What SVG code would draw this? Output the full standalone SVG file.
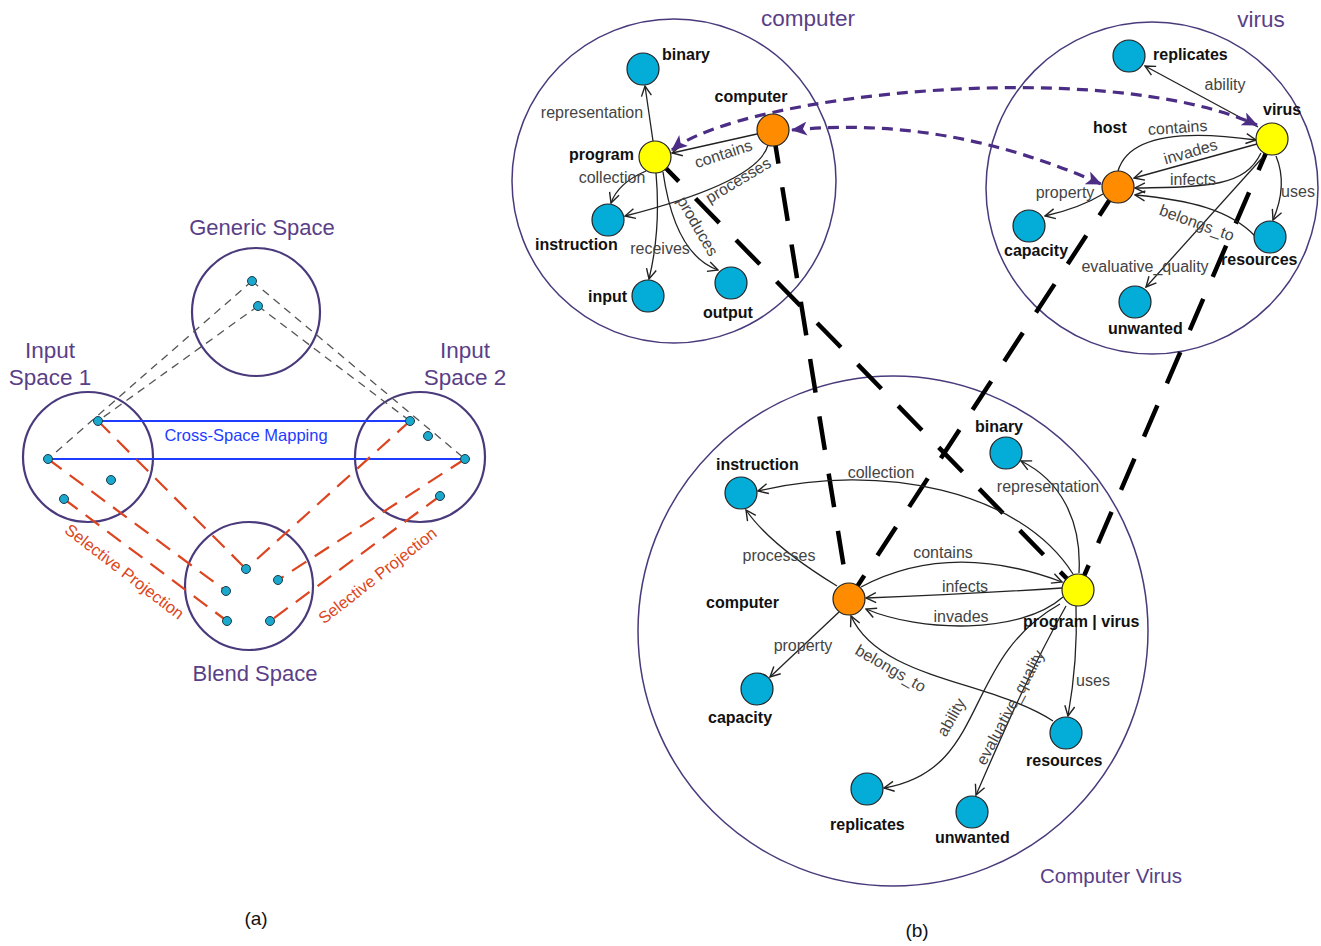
<svg xmlns="http://www.w3.org/2000/svg" width="1321" height="946" viewBox="0 0 1321 946">
  <defs>
    <style>
      .space { fill: none; stroke: #4a3a7c; }
      .spaceA { stroke-width: 2.2; }
      .spaceB { stroke-width: 1.5; }
      .title { font-family: "Liberation Sans", Arial, sans-serif; fill: #5a3f88; }
      .dot { fill: #1aa8cc; stroke: #1c3a48; stroke-width: 1; }
      .gen { fill: none; stroke: #555; stroke-width: 1.3; stroke-dasharray: 8 6; }
      .map { fill: none; stroke: #1e3cff; stroke-width: 2; }
      .proj { fill: none; stroke: #dc4520; stroke-width: 2.2; stroke-dasharray: 17 10; }
      .redlbl { font-family: "Liberation Sans", Arial, sans-serif; font-size: 16.5px; fill: #dc4520; }
      .node { stroke: #222; stroke-width: 1.2; }
      .blue { fill: #04acd8; }
      .orange { fill: #ff8c00; }
      .yellow { fill: #ffff00; }
      .nl { font-family: "Liberation Sans", Arial, sans-serif; font-weight: bold; font-size: 16px; fill: #111; }
      .el { font-family: "Liberation Sans", Arial, sans-serif; font-size: 16px; fill: #444; }
      .edge { fill: none; stroke: #222; stroke-width: 1.3; marker-end: url(#open); }
      .link { fill: none; stroke: #000; stroke-width: 4.5; stroke-dasharray: 34 24; }
      .corr { fill: none; stroke: #4b2d86; stroke-width: 3.2; stroke-dasharray: 11 7; marker-start: url(#solid); marker-end: url(#solid); }
      .cap { font-family: "Liberation Sans", Arial, sans-serif; font-size: 19px; fill: #111; }
    </style>
    <marker id="open" viewBox="0 0 12 12" refX="11" refY="6" markerWidth="12" markerHeight="12" markerUnits="userSpaceOnUse" orient="auto">
      <path d="M1,1 L11,6 L1,11" fill="none" stroke="#222" stroke-width="1.4"/>
    </marker>
    <marker id="solid" viewBox="0 0 16 14" refX="15" refY="7" markerWidth="16" markerHeight="14" markerUnits="userSpaceOnUse" orient="auto-start-reverse">
      <path d="M0,0 L16,7 L0,14 L4,7 Z" fill="#4b2d86"/>
    </marker>
  </defs>

  <rect width="1321" height="946" fill="#fff"/>

  <!-- (a) conceptual blending network -->
  <g id="panel-a">
    <g id="generic-space">
      <circle class="space spaceA" cx="256" cy="312" r="64"/>
      <text class="title" x="262" y="235" font-size="22" text-anchor="middle">Generic Space</text>
    </g>
    <g id="input-space-1">
      <circle class="space spaceA" cx="88" cy="457" r="65"/>
      <text class="title" x="50" y="358" font-size="22.5" text-anchor="middle">Input</text>
      <text class="title" x="50" y="385" font-size="22.5" text-anchor="middle">Space 1</text>
    </g>
    <g id="input-space-2">
      <circle class="space spaceA" cx="420" cy="457" r="65"/>
      <text class="title" x="465" y="358" font-size="22.5" text-anchor="middle">Input</text>
      <text class="title" x="465" y="385" font-size="22.5" text-anchor="middle">Space 2</text>
    </g>
    <g id="blend-space">
      <circle class="space spaceA" cx="249" cy="586" r="64"/>
      <text class="title" x="255" y="681" font-size="22" text-anchor="middle">Blend Space</text>
    </g>

    <g id="a-connectors">
      <line class="gen" x1="252" y1="281" x2="48" y2="459"/>
      <line class="gen" x1="252" y1="281" x2="465" y2="459"/>
      <line class="gen" x1="258" y1="306" x2="98" y2="421"/>
      <line class="gen" x1="258" y1="306" x2="410" y2="421"/>
      <line class="map" x1="98" y1="421" x2="410" y2="421"/>
      <line class="map" x1="48" y1="459" x2="465" y2="459"/>
      <line class="proj" x1="98" y1="421" x2="246" y2="569"/>
      <line class="proj" x1="48" y1="459" x2="226" y2="591"/>
      <line class="proj" x1="64" y1="499" x2="227" y2="621"/>
      <line class="proj" x1="410" y1="421" x2="246" y2="569"/>
      <line class="proj" x1="465" y1="459" x2="278" y2="580"/>
      <line class="proj" x1="440" y1="496" x2="270" y2="621"/>
      <text x="246" y="441" font-family="Liberation Sans, Arial, sans-serif" font-size="16.5" fill="#1e3cff" text-anchor="middle">Cross-Space Mapping</text>
      <text class="redlbl" text-anchor="middle" transform="translate(121 576) rotate(37.5)">Selective Projection</text>
      <text class="redlbl" text-anchor="middle" transform="translate(381 580) rotate(-38)">Selective Projection</text>
    </g>

    <g id="a-elements">
      <circle class="dot" cx="252" cy="281" r="4.5"/>
      <circle class="dot" cx="258" cy="306" r="4.5"/>
      <circle class="dot" cx="98" cy="421" r="4.5"/>
      <circle class="dot" cx="48" cy="459" r="4.5"/>
      <circle class="dot" cx="111" cy="480" r="4.5"/>
      <circle class="dot" cx="64" cy="499" r="4.5"/>
      <circle class="dot" cx="410" cy="421" r="4.5"/>
      <circle class="dot" cx="428" cy="436" r="4.5"/>
      <circle class="dot" cx="465" cy="459" r="4.5"/>
      <circle class="dot" cx="440" cy="496" r="4.5"/>
      <circle class="dot" cx="246" cy="569" r="4.5"/>
      <circle class="dot" cx="278" cy="580" r="4.5"/>
      <circle class="dot" cx="226" cy="591" r="4.5"/>
      <circle class="dot" cx="227" cy="621" r="4.5"/>
      <circle class="dot" cx="270" cy="621" r="4.5"/>
    </g>
    <text class="cap" x="256" y="925" text-anchor="middle">(a)</text>
  </g>

  <!-- (b) computer / virus blend -->
  <g id="spaces-b">
    <circle class="space spaceB" cx="674" cy="181" r="162"/>
    <text class="title" x="808" y="26" font-size="22.5" text-anchor="middle">computer</text>
    <circle class="space spaceB" cx="1152" cy="188" r="166"/>
    <text class="title" x="1261" y="27" font-size="22.5" text-anchor="middle">virus</text>
    <circle class="space spaceB" cx="893" cy="631" r="255"/>
    <text class="title" x="1111" y="883" font-size="20.5" text-anchor="middle">Computer Virus</text>
  </g>

  <g id="connectors">
    <!-- cross-space mapping links -->
    <line class="link" x1="655" y1="157" x2="1078" y2="590"/>
    <line class="link" x1="773" y1="130" x2="849" y2="599"/>
    <line class="link" x1="1118" y1="187" x2="849" y2="599"/>
    <line class="link" x1="1272" y1="139" x2="1078" y2="590"/>

    <!-- computer space relations -->
    <path class="edge" d="M653,141 L645,86"/>
    <path class="edge" d="M757,134 L672,153"/>
    <path class="edge" d="M768,145 Q758,182 625,216"/>
    <path class="edge" d="M646,171 Q618,183 611,203"/>
    <path class="edge" d="M656,173 Q661,230 649,279"/>
    <path class="edge" d="M663,172 Q675,255 718,270"/>
    <text class="el" x="592" y="118" text-anchor="middle">representation</text>
    <text class="el" text-anchor="middle" transform="translate(725 159) rotate(-18)">contains</text>
    <text class="el" text-anchor="middle" transform="translate(741 185) rotate(-31)">processes</text>
    <text class="el" x="612" y="183" text-anchor="middle">collection</text>
    <text class="el" x="660" y="254" text-anchor="middle">receives</text>
    <text class="el" text-anchor="middle" transform="translate(693 229) rotate(60)">produces</text>

    <!-- virus space relations -->
    <path class="edge" d="M1258,127 L1145,66"/>
    <path class="edge" d="M1118,171 C1130,130 1200,132 1256,140"/>
    <path class="edge" d="M1257,144 L1134,178"/>
    <path class="edge" d="M1261,153 C1245,186 1210,187 1135,188"/>
    <path class="edge" d="M1276,156 Q1288,185 1273,220"/>
    <path class="edge" d="M1255,236 C1230,210 1190,200 1135,195"/>
    <path class="edge" d="M1103,194 Q1080,208 1045,216"/>
    <path class="edge" d="M1263,157 L1146,287"/>
    <text class="el" x="1225" y="90" text-anchor="middle">ability</text>
    <text class="el" text-anchor="middle" transform="translate(1178 133) rotate(-4)">contains</text>
    <text class="el" text-anchor="middle" transform="translate(1192 157) rotate(-16)">invades</text>
    <text class="el" x="1193" y="185" text-anchor="middle">infects</text>
    <text class="el" x="1298" y="197" text-anchor="middle">uses</text>
    <text class="el" text-anchor="middle" transform="translate(1195 228) rotate(20)">belongs_to</text>
    <text class="el" x="1065" y="198" text-anchor="middle">property</text>
    <text class="el" x="1145" y="272" text-anchor="middle">evaluative_quality</text>

    <!-- blend space relations -->
    <path class="edge" d="M1073,574 C1020,490 880,462 758,491"/>
    <path class="edge" d="M1079,573 C1082,520 1060,480 1021,461"/>
    <path class="edge" d="M837,586 Q770,545 746,510"/>
    <path class="edge" d="M861,587 Q950,540 1062,582"/>
    <path class="edge" d="M1062,588 Q970,594 866,598"/>
    <path class="edge" d="M1063,597 C1020,635 920,632 866,609"/>
    <path class="edge" d="M839,612 L770,677"/>
    <path class="edge" d="M1053,721 C990,680 880,680 851,616"/>
    <path class="edge" d="M1076,606 Q1078,660 1068,716"/>
    <path class="edge" d="M1060,604 C960,660 990,770 884,788"/>
    <path class="edge" d="M1066,606 C1030,670 1000,740 976,795"/>
    <text class="el" x="881" y="478" text-anchor="middle">collection</text>
    <text class="el" x="1048" y="492" text-anchor="middle">representation</text>
    <text class="el" x="779" y="561" text-anchor="middle">processes</text>
    <text class="el" x="943" y="558" text-anchor="middle">contains</text>
    <text class="el" x="965" y="592" text-anchor="middle">infects</text>
    <text class="el" x="961" y="622" text-anchor="middle">invades</text>
    <text class="el" x="803" y="651" text-anchor="middle">property</text>
    <text class="el" text-anchor="middle" transform="translate(888 673) rotate(30)">belongs_to</text>
    <text class="el" x="1093" y="686" text-anchor="middle">uses</text>
    <text class="el" text-anchor="middle" transform="translate(956 720) rotate(-60)">ability</text>
    <text class="el" text-anchor="middle" transform="translate(1015 710) rotate(-62)">evaluative_quality</text>

    <!-- correspondences between input spaces -->
    <path class="corr" d="M672,150 C740,95 1100,55 1257,125"/>
    <path class="corr" d="M792,130 Q946,115 1101,184"/>
  </g>

  <!-- computer space nodes -->
  <g id="c-binary"><circle class="node blue" cx="643" cy="69" r="16"/><text class="nl" x="662" y="60">binary</text></g>
  <g id="c-computer"><circle class="node orange" cx="773" cy="130" r="16"/><text class="nl" x="751" y="102" text-anchor="middle">computer</text></g>
  <g id="c-program"><circle class="node yellow" cx="655" cy="157" r="16"/><text class="nl" x="634" y="160" text-anchor="end">program</text></g>
  <g id="c-instruction"><circle class="node blue" cx="608" cy="220" r="16"/><text class="nl" x="535" y="250">instruction</text></g>
  <g id="c-input"><circle class="node blue" cx="648" cy="296" r="16"/><text class="nl" x="588" y="302">input</text></g>
  <g id="c-output"><circle class="node blue" cx="731" cy="283" r="16"/><text class="nl" x="703" y="318">output</text></g>

  <!-- virus space nodes -->
  <g id="v-replicates"><circle class="node blue" cx="1129" cy="56" r="16"/><text class="nl" x="1153" y="60">replicates</text></g>
  <g id="v-virus"><circle class="node yellow" cx="1272" cy="139" r="16"/><text class="nl" x="1263" y="115">virus</text></g>
  <g id="v-host"><circle class="node orange" cx="1118" cy="187" r="16"/><text class="nl" x="1093" y="133">host</text></g>
  <g id="v-capacity"><circle class="node blue" cx="1029" cy="226" r="16"/><text class="nl" x="1004" y="256">capacity</text></g>
  <g id="v-resources"><circle class="node blue" cx="1270" cy="237" r="16"/><text class="nl" x="1221" y="265">resources</text></g>
  <g id="v-unwanted"><circle class="node blue" cx="1135" cy="302" r="16"/><text class="nl" x="1108" y="334">unwanted</text></g>

  <!-- blend space nodes -->
  <g id="b-instruction"><circle class="node blue" cx="741" cy="493" r="16"/><text class="nl" x="716" y="470" font-size="18">instruction</text></g>
  <g id="b-binary"><circle class="node blue" cx="1006" cy="453" r="16"/><text class="nl" x="975" y="432">binary</text></g>
  <g id="b-computer"><circle class="node orange" cx="849" cy="599" r="16"/><text class="nl" x="706" y="608">computer</text></g>
  <g id="b-program-virus"><circle class="node yellow" cx="1078" cy="590" r="16"/><text class="nl" x="1023" y="627">program | virus</text></g>
  <g id="b-capacity"><circle class="node blue" cx="757" cy="689" r="16"/><text class="nl" x="708" y="723">capacity</text></g>
  <g id="b-resources"><circle class="node blue" cx="1066" cy="733" r="16"/><text class="nl" x="1026" y="766">resources</text></g>
  <g id="b-replicates"><circle class="node blue" cx="867" cy="789" r="16"/><text class="nl" x="830" y="830">replicates</text></g>
  <g id="b-unwanted"><circle class="node blue" cx="972" cy="812" r="16"/><text class="nl" x="935" y="843">unwanted</text></g>

  <text class="cap" x="917" y="937" text-anchor="middle">(b)</text>
</svg>
